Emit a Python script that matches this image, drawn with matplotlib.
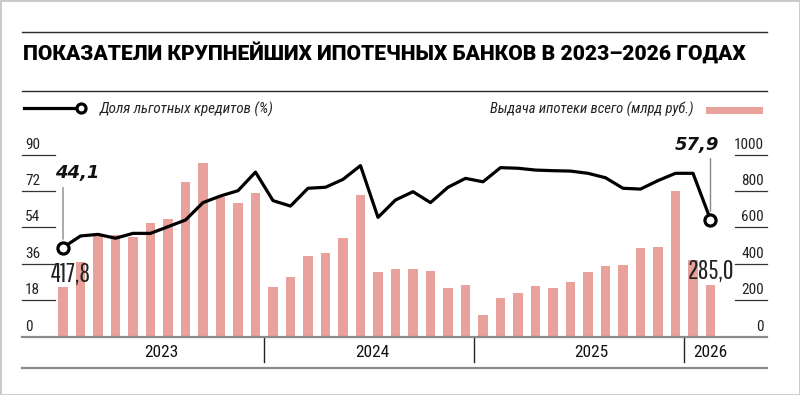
import matplotlib
matplotlib.use('Agg')
import matplotlib.pyplot as plt
from matplotlib.transforms import blended_transform_factory as blend
from matplotlib.lines import Line2D
from matplotlib.patches import Rectangle
import numpy as np

# ---------------- data ----------------
title = "ПОКАЗАТЕЛИ КРУПНЕЙШИХ ИПОТЕЧНЫХ БАНКОВ В 2023–2026 ГОДАХ"
line_label = "Доля льготных кредитов (%)"
bar_label = "Выдача ипотеки всего (млрд руб.)"
years = ["2023", "2024", "2025", "2026"]
months_per_year = [12, 12, 12, 2]
issuance = [275, 412, 553, 559, 549, 625, 647, 852, 956, 769, 736, 791,
            275, 330, 441, 460, 540, 778, 353, 374, 370, 363, 269, 284,
            119, 214, 240, 277, 266, 302, 355, 388, 396, 485, 495, 800,
            421, 285.0]
share = [44.1, 49.8, 50.6, 48.7, 51.1, 51.1, 54.4, 57.7, 66.3, 69.6, 72.2, 81.4,
         67.3, 64.6, 73.4, 73.9, 77.8, 84.6, 59.0, 67.6, 71.7, 66.3, 73.9, 78.3,
         76.6, 83.6, 83.3, 82.4, 82.1, 81.9, 80.8, 78.6, 73.4, 73.0, 77.2, 80.8,
         80.8, 57.9]
left_ticks = [0, 18, 36, 54, 72, 90]
right_ticks = [0, 200, 400, 600, 800, 1000]
first_bar_label = "417,8"
last_bar_label = "285,0"
first_share_label = "44,1"
last_share_label = "57,9"

# ---------------- style ----------------
BAR = '#E9A19B'
COND = ['Liberation Sans Narrow', 'Roboto Condensed', 'DejaVu Sans']
TALL = ['Pathway Gothic One', 'Liberation Sans Narrow', 'DejaVu Sans']
W, H = 800, 395
fig = plt.figure(figsize=(W / 100, H / 100), dpi=100)


def fx(px):
    return px / W


def fy(py):
    return 1 - py / H


# frame
fig.patches.append(Rectangle((0, 0), 1, 1, transform=fig.transFigure, fill=False,
                             edgecolor='#c8c8c8', lw=2.0))
# top rules
for py in (32.3, 91.0):
    fig.add_artist(Line2D([fx(22), fx(766.7)], [fy(py), fy(py)], color='#2a2a2a', lw=1.0))

t = fig.text(fx(23), fy(52.5), title, ha='left', va='center', fontsize=12,
             family=['Roboto', 'DejaVu Sans'], fontweight='black', color='black')

# legend
fig.add_artist(Line2D([fx(24), fx(77)], [fy(108.3), fy(108.3)], color='black', lw=2.3))
fig.add_artist(Line2D([fx(81)], [fy(108.3)], marker='o', ms=6.5, mfc='white', mec='black',
                      mew=2.3, ls='none'))
l1 = fig.text(fx(100), fy(109), line_label, ha='left', va='center', fontsize=10.8,
              family=COND, style='italic', color='#222')
l2 = fig.text(fx(694), fy(109), bar_label, ha='right', va='center', fontsize=10.5,
              family=COND, style='italic', color='#222')
fig.patches.append(Rectangle((fx(705.7), fy(114)), fx(762.7) - fx(705.7), fy(106.7) - fy(114),
                             transform=fig.transFigure, color=BAR, lw=0))

# ---------------- axes ----------------
x0_px, spacing = 63.0, 17.5
left_px, right_px, bot_px, top_px = 22.0, 766.7, 336.7, 154.7
ax = fig.add_axes([fx(left_px), fy(bot_px), (right_px - left_px) / W, (bot_px - top_px) / H])
ax.set_xlim(-(x0_px - left_px) / spacing, (right_px - x0_px) / spacing)
ax.set_ylim(0, 1000)
ax.axis('off')
ax2 = ax.twinx()
ax2.set_ylim(0, 90)
ax2.axis('off')

x = np.arange(len(issuance))
ax.bar(x, issuance, width=0.52, color=BAR, zorder=2)

ax2.plot(x, share, color='black', lw=2.3, solid_joinstyle='round', zorder=3)
ax2.plot([x[0], x[-1]], [share[0], share[-1]], ls='none', marker='o', ms=8, mfc='white',
         mec='black', mew=2.3, zorder=4, clip_on=False)

# tick rules and labels
TL = blend(ax2.transAxes, ax2.transData)
for v in left_ticks:
    if v != 0:
        ax2.plot([0, (55 - 22) / (right_px - left_px)], [v, v], transform=TL, color='#333',
                 lw=0.9, clip_on=False)
    ax2.annotate(str(v), xy=(0, v), xycoords=TL, xytext=(3, 3), textcoords='offset pixels',
                 ha='left', va='bottom', fontsize=11, family=COND, color='#222')
TR = blend(ax.transAxes, ax.transData)
for v in right_ticks:
    if v != 0:
        ax.plot([(735 - 22) / (right_px - left_px), 1], [v, v], transform=TR, color='#333',
                lw=0.9, clip_on=False)
    ax.annotate(str(v), xy=(1, v), xycoords=TR, xytext=(-3, 3), textcoords='offset pixels',
                ha='right', va='bottom', fontsize=11, family=COND, color='#222')

# baseline & bottom rule
ax.plot([0, 1], [0, 0], transform=TR, color='#8a8a8a', lw=1.6, clip_on=False, zorder=5)
fig.add_artist(Line2D([fx(22), fx(766.7)], [fy(367.7), fy(367.7)], color='#8a8a8a', lw=1.6))

# year dividers and labels
TY = blend(ax.transData, fig.transFigure)
bounds = np.cumsum(months_per_year)
for b in bounds[:-1]:
    ax.plot([b - 0.5, b - 0.5], [fy(337), fy(362)], transform=TY, color='#222', lw=1.0,
            clip_on=False)
year_pos = [5.6, 17.7, 30.2, 37.0]
for yl, xp in zip(years, year_pos):
    ax.text(xp, fy(352.5), yl, transform=TY, ha='center', va='center', fontsize=12.5,
            family=COND, color='#111')

# value annotations
ax.annotate(first_bar_label, xy=(x[0], issuance[0]), xytext=(8, 0), textcoords='offset pixels',
            ha='center', va='bottom', fontsize=19, family=TALL, color='#222')
ax.annotate(last_bar_label, xy=(x[-1], issuance[-1]), xytext=(0, 1), textcoords='offset pixels',
            ha='center', va='bottom', fontsize=19, family=TALL, color='#222')

ax2.annotate('', xy=(x[0], share[0]), xytext=(0, 60), textcoords='offset pixels',
             arrowprops=dict(arrowstyle='-', color='#888', lw=1.0, shrinkA=0, shrinkB=6))
ax2.annotate(first_share_label, xy=(x[0], share[0]), xytext=(14, 66), textcoords='offset pixels',
             ha='center', va='bottom', fontsize=13, fontweight='bold', style='italic',
             family=['DejaVu Sans'], color='#111')
ax2.annotate('', xy=(x[-1], share[-1]), xytext=(0, 61), textcoords='offset pixels',
             arrowprops=dict(arrowstyle='-', color='#888', lw=1.0, shrinkA=0, shrinkB=6))
ax2.annotate(last_share_label, xy=(x[-1], share[-1]), xytext=(-14, 66), textcoords='offset pixels',
             ha='center', va='bottom', fontsize=13, fontweight='bold', style='italic',
             family=['DejaVu Sans'], color='#111')

# fit title width
fig.canvas.draw()
r = fig.canvas.get_renderer()
bb = t.get_window_extent(r)
t.set_fontsize(12 * 720 / bb.width)

fig.savefig('out.png', dpi=100)
